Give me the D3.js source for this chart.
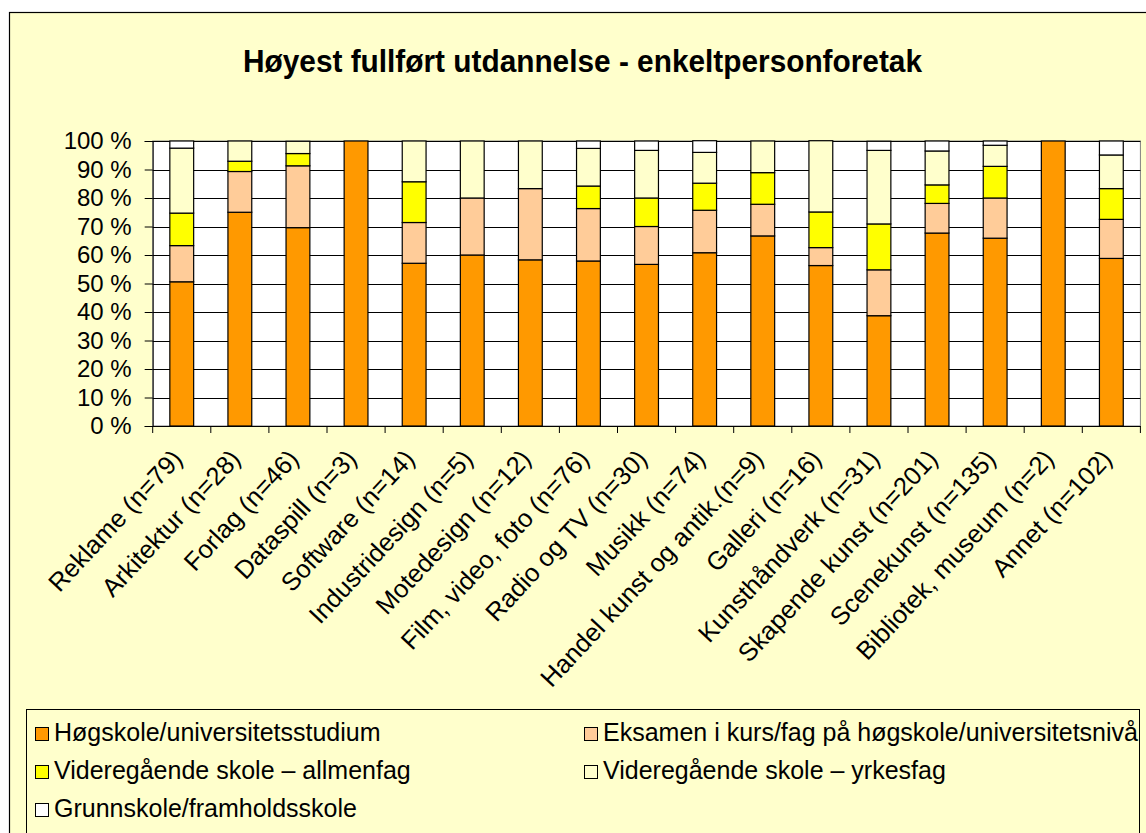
<!DOCTYPE html>
<html>
<head>
  <meta charset="utf-8">
  <title>Høyest fullført utdannelse</title>
  <script src="https://cdn.jsdelivr.net/npm/d3@7"></script>
  <style>
    body { margin: 0; background: #fff; }
    svg text { font-family: "Liberation Sans", Arial, sans-serif; fill: #000; }
  </style>
</head>
<body>
  <div id="chart"></div>
  <script>
    let categories = ['Reklame (n=79)', 'Arkitektur (n=28)', 'Forlag (n=46)', 'Dataspill (n=3)',
      'Software (n=14)', 'Industridesign (n=5)', 'Motedesign (n=12)', 'Film, video, foto (n=76)',
      'Radio og TV (n=30)', 'Musikk (n=74)', 'Handel kunst og antik.(n=9)', 'Galleri (n=16)',
      'Kunsthåndverk  (n=31)', 'Skapende kunst (n=201)', 'Scenekunst  (n=135)',
      'Bibliotek, museum (n=2)', 'Annet (n=102)'];

    let seriesNames = ['Høgskole/universitetsstudium', 'Eksamen i kurs/fag på høgskole/universitetsnivå',
      'Videregående skole – allmenfag', 'Videregående skole – yrkesfag', 'Grunnskole/framholdsskole'];
    let seriesColors = ['#FF9900', '#FFCC99', '#FFFF00', '#FFFFCC', '#FFFFFF'];

    let hogskole   = [50.6, 75.0, 69.6, 100, 57.1, 60.0, 58.3, 57.9, 56.7, 60.8, 66.7, 56.3, 38.7, 67.7, 65.9, 100, 58.8];
    let eksamen    = [12.7, 14.3, 21.7, 0, 14.3, 20.0, 25.0, 18.4, 13.3, 14.9, 11.1, 6.3, 16.1, 10.4, 14.1, 0, 13.7];
    let allmenfag  = [11.4, 3.6, 4.3, 0, 14.3, 0, 0, 7.9, 10.0, 9.5, 11.1, 12.5, 16.1, 6.5, 11.1, 0, 10.8];
    let yrkesfag   = [22.8, 7.1, 4.3, 0, 14.3, 20.0, 16.7, 13.2, 16.7, 10.8, 11.1, 25.0, 25.8, 11.9, 7.4, 0, 11.8];
    let grunnskole = [2.5, 0, 0, 0, 0, 0, 0, 2.6, 3.3, 4.1, 0, 0, 3.2, 3.5, 1.5, 0, 4.9];

    let yTicks = [0, 10, 20, 30, 40, 50, 60, 70, 80, 90, 100];

    let w = 1146, h = 833;
    let plot = { left: 152.7, right: 1140.4, top: 141, bottom: 426 };

    let seriesValues = [hogskole, eksamen, allmenfag, yrkesfag, grunnskole];
    let rows = categories.map((c, i) => {
      let r = { cat: c };
      seriesNames.forEach((s, j) => { r[s] = seriesValues[j][i]; });
      return r;
    });

    let stacked = d3.stack().keys(seriesNames)(rows);

    let x = d3.scaleBand()
      .domain(categories)
      .range([plot.left, plot.right]);
    let barW = x.bandwidth() * 0.41;

    let y = d3.scaleLinear()
      .domain([0, 100])
      .range([plot.bottom, plot.top]);

    let color = d3.scaleOrdinal().domain(seriesNames).range(seriesColors);

    let svg = d3.select('#chart').append('svg')
      .attr('width', w)
      .attr('height', h);

    // chart area
    svg.append('rect')
      .attr('x', 9.5).attr('y', 12.5)
      .attr('width', 1160).attr('height', 840)
      .attr('fill', '#FFFFCC')
      .attr('stroke', '#000').attr('stroke-width', 1.2);

    svg.append('text')
      .attr('x', 582.5).attr('y', 72)
      .attr('text-anchor', 'middle')
      .attr('font-size', 32)
      .attr('font-weight', 'bold')
      .attr('textLength', 679)
      .attr('lengthAdjust', 'spacingAndGlyphs')
      .text('Høyest fullført utdannelse - enkeltpersonforetak');

    // plot area
    svg.append('rect')
      .attr('x', plot.left).attr('y', plot.top)
      .attr('width', plot.right - plot.left).attr('height', plot.bottom - plot.top)
      .attr('fill', '#fff')
      .attr('stroke', '#808080').attr('stroke-width', 1);

    svg.append('g')
      .selectAll('line')
      .data(yTicks)
      .enter()
      .append('line')
      .attr('x1', plot.left).attr('x2', plot.right)
      .attr('y1', d => Math.round(y(d)) + 0.5)
      .attr('y2', d => Math.round(y(d)) + 0.5)
      .attr('stroke', '#000')
      .attr('stroke-width', 1);

    // bars
    svg.append('g')
      .selectAll('g')
      .data(stacked)
      .enter()
      .append('g')
      .attr('fill', d => color(d.key))
      .selectAll('rect')
      .data(d => d.filter(s => s[1] - s[0] > 0))
      .enter()
      .append('rect')
      .attr('x', d => x(d.data.cat) + (x.bandwidth() - barW) / 2)
      .attr('width', barW)
      .attr('y', d => y(d[1]))
      .attr('height', d => y(d[0]) - y(d[1]))
      .attr('stroke', '#000')
      .attr('stroke-width', 1.2);

    // y axis
    let yAxis = svg.append('g')
      .attr('transform', `translate(${plot.left},0)`)
      .call(d3.axisLeft(y).tickValues(yTicks).tickFormat(d => d + ' %').tickSize(8).tickPadding(13));
    yAxis.select('.domain').attr('stroke', '#000');
    yAxis.selectAll('.tick line').attr('stroke', '#000');
    yAxis.selectAll('text').attr('font-size', 24).style('font-family', '"Liberation Sans", Arial, sans-serif');

    // x axis line and ticks between categories
    svg.append('line')
      .attr('x1', plot.left).attr('x2', plot.right)
      .attr('y1', plot.bottom + 0.5).attr('y2', plot.bottom + 0.5)
      .attr('stroke', '#000');
    svg.append('g')
      .selectAll('line')
      .data(categories.concat(['end']))
      .enter()
      .append('line')
      .attr('x1', (d, i) => plot.left + i * x.step())
      .attr('x2', (d, i) => plot.left + i * x.step())
      .attr('y1', plot.bottom).attr('y2', plot.bottom + 7)
      .attr('stroke', '#000');

    svg.append('g')
      .selectAll('text')
      .data(categories)
      .enter()
      .append('text')
      .attr('transform', d => `translate(${x(d) + x.bandwidth() / 2 + 2},${plot.bottom + 34}) rotate(-47)`)
      .attr('text-anchor', 'end')
      .attr('font-size', 25.5)
      .text(d => d);

    // legend
    svg.append('rect')
      .attr('x', 26.5).attr('y', 709.5)
      .attr('width', 1113).attr('height', 160)
      .attr('fill', '#FFFFCC')
      .attr('stroke', '#000').attr('stroke-width', 1);

    let legendPos = [[35, 727], [584, 727], [35, 765], [584, 765], [35, 803]];
    let legend = svg.append('g')
      .selectAll('g')
      .data(seriesNames)
      .enter()
      .append('g')
      .attr('transform', (d, i) => `translate(${legendPos[i][0]},${legendPos[i][1]})`);
    legend.append('rect')
      .attr('x', 0.5).attr('y', 0.5)
      .attr('width', 13).attr('height', 13)
      .attr('fill', d => color(d))
      .attr('stroke', '#000');
    legend.append('text')
      .attr('x', 19).attr('y', 14)
      .attr('font-size', 25)
      .text(d => d);
  </script>
</body>
</html>
